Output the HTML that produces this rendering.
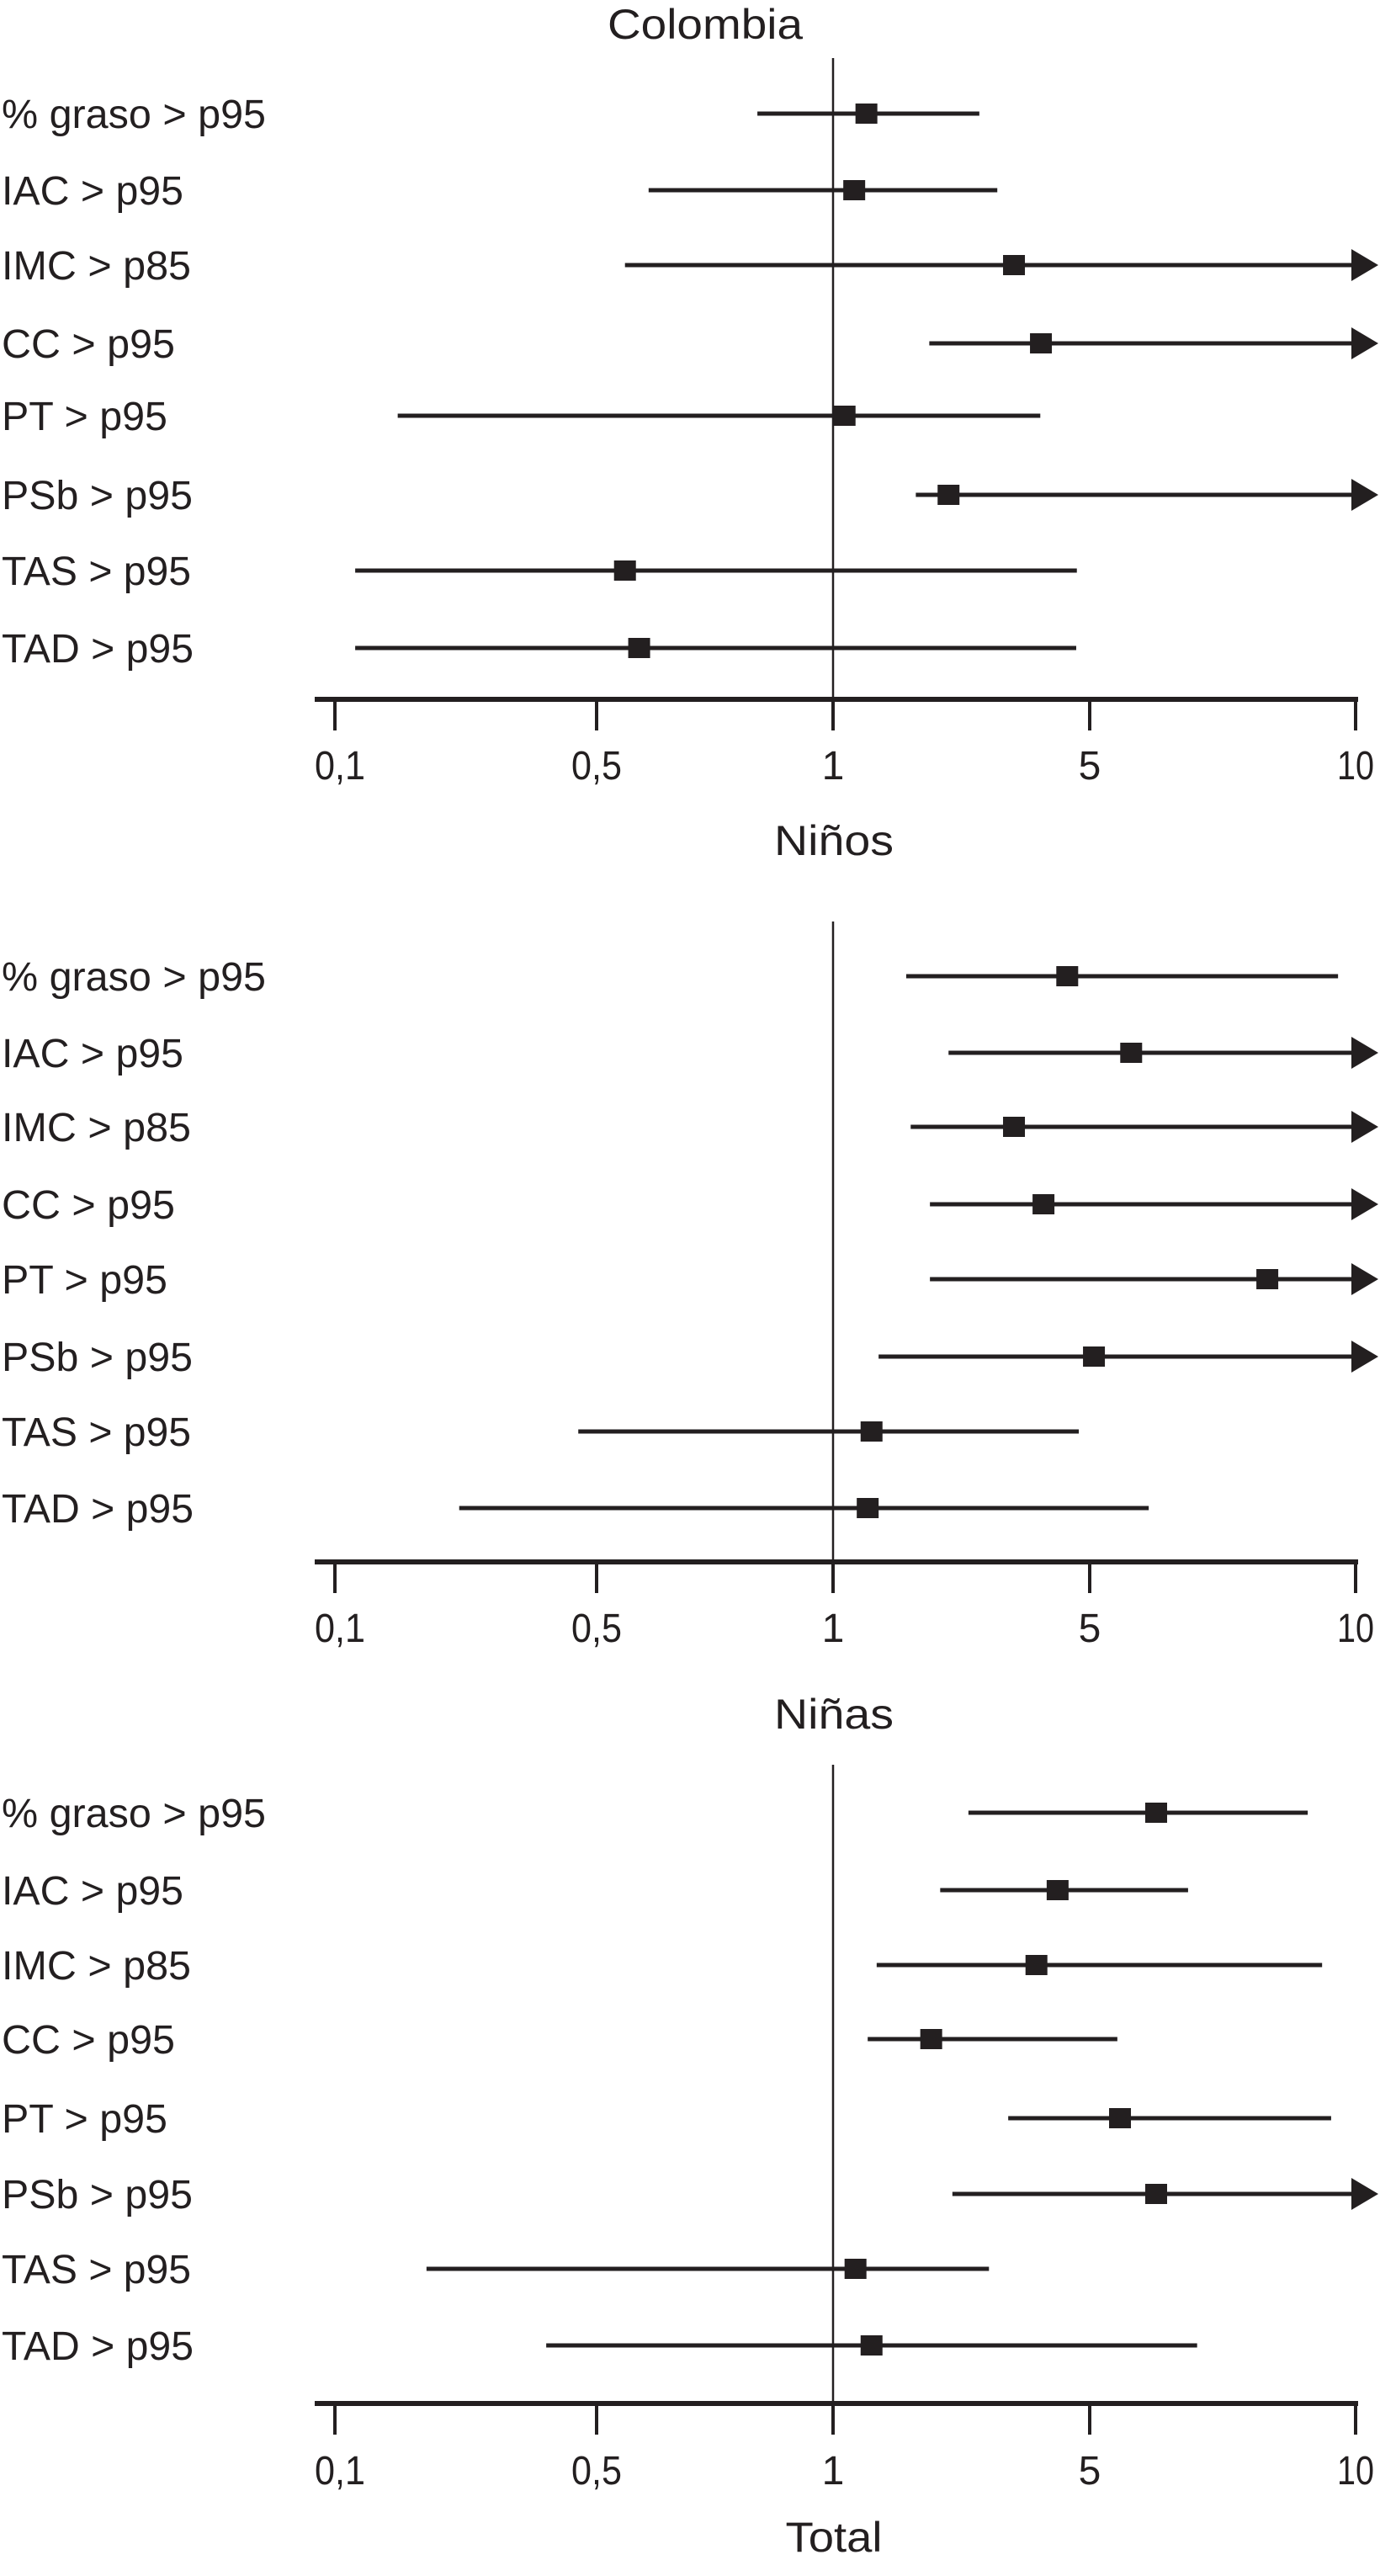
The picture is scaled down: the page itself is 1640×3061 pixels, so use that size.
<!DOCTYPE html>
<html><head><meta charset="utf-8"><style>
html,body{margin:0;padding:0;background:#fff;}
svg{display:block;}
text{font-family:"Liberation Sans",sans-serif;fill:#231f20;}
</style></head>
<body>
<svg id="chart" width="1640" height="3061" viewBox="0 0 1640 3061" xmlns="http://www.w3.org/2000/svg"></svg>
<script>
const categories = ["% graso > p95","IAC > p95","IMC > p85","CC > p95","PT > p95","PSb > p95","TAS > p95","TAD > p95"];
const labelWidths = [314,216,225,206,197,227,225,228];
const tickValues = [0.1,0.5,1,5,10];
const tickLabels = ["0,1","0,5","1","5","10"];
const tickLabelWidths = [60,60,0,0,44];
const panelTitles = ["Colombia","Niños","Niñas"];
const titleWidths = [232,142,142];
// null upper = arrow (CI beyond axis)
const colombiaEst = [1.52,1.33,3.82,4.24,1.18,2.80,0.56,0.59];
const colombiaLo  = [0.84,0.61,0.56,2.50,0.196,2.29,0.131,0.131];
const colombiaHi  = [3.28,3.56,null,null,4.23,null,4.80,4.79];
const ninosEst = [4.65,5.78,3.82,4.28,8.34,5.08,1.60,1.54];
const ninosLo  = [2.14,2.80,2.21,2.51,2.51,1.71,0.472,0.29];
const ninosHi  = [9.67,null,null,null,null,null,4.83,6.11];
const ninasEst = [6.25,4.50,4.17,2.53,5.57,6.25,1.35,1.60];
const ninasLo  = [3.11,2.67,1.68,1.54,3.73,2.86,0.240,0.423];
const ninasHi  = [9.10,6.85,9.37,5.52,9.54,null,3.43,7.02];

const NS="http://www.w3.org/2000/svg";
const svg=document.getElementById('chart');
const tickPx=[398,709,990,1295,1611];
function xScale(v){
  if(v<=tickValues[0]) return tickPx[0]+(v-tickValues[0])/(tickValues[1]-tickValues[0])*(tickPx[1]-tickPx[0]);
  for(let i=0;i<tickValues.length-1;i++){
    if(v<=tickValues[i+1]) return tickPx[i]+(v-tickValues[i])/(tickValues[i+1]-tickValues[i])*(tickPx[i+1]-tickPx[i]);
  }
  return 1608;
}
function mk(tag,attrs,parent){const e=document.createElementNS(NS,tag);for(const k in attrs)e.setAttribute(k,attrs[k]);(parent||svg).appendChild(e);return e;}

const panels=[
 {est:colombiaEst,lo:colombiaLo,hi:colombiaHi,rows:[135,226,315,408,494,588,678,770],axisY:831,vTop:69,tickLabY:909,titleX:838,titleY:29},
 {est:ninosEst,lo:ninosLo,hi:ninosHi,rows:[1160,1251,1339,1431,1520,1612,1701,1792],axisY:1856,vTop:1095,tickLabY:1934,titleX:991,titleY:999},
 {est:ninasEst,lo:ninasLo,hi:ninasHi,rows:[2154,2246,2335,2423,2517,2607,2696,2787],axisY:2856,vTop:2097,tickLabY:2935,titleX:991,titleY:2037}
];
panels.forEach((p,pi)=>{
  const g=mk('g',{});
  
  
  const t=mk('text',{x:p.titleX,y:p.titleY+17,'font-size':50,'text-anchor':'middle',textLength:titleWidths[pi],lengthAdjust:'spacingAndGlyphs'},g);
  t.textContent=panelTitles[pi];
  
  
  const ref=mk('line',{x1:xScale(1),x2:xScale(1),y1:p.vTop,y2:p.axisY,stroke:'#231f20','stroke-width':2.5},g);
  
  
  const ax=mk('line',{x1:374,x2:1614,y1:p.axisY,y2:p.axisY,stroke:'#231f20','stroke-width':6},g);
  
  
  tickValues.forEach((v,i)=>{
    const x=xScale(v);
    const tk=mk('line',{x1:x,x2:x,y1:p.axisY,y2:p.axisY+37,stroke:'#231f20','stroke-width':4},g);
    
    
    const attrs={x:x+(i==0?6:0),y:p.tickLabY+17,'font-size':48,'text-anchor':'middle'};
    if(tickLabelWidths[i]){attrs.textLength=tickLabelWidths[i];attrs.lengthAdjust='spacingAndGlyphs';}
    const tl=mk('text',attrs,g);
    tl.textContent=tickLabels[i];
    
    
  });
  categories.forEach((c,i)=>{
    const y=p.rows[i];
    const lab=mk('text',{x:2,y:y+17,'font-size':48,textLength:labelWidths[i],lengthAdjust:'spacingAndGlyphs'},g);
    lab.textContent=c;
    
    
    const x1=xScale(p.lo[i]);
    const x2=p.hi[i]===null?1608:xScale(p.hi[i]);
    const ci=mk('line',{x1:x1,x2:x2,y1:y,y2:y,stroke:'#231f20','stroke-width':5},g);
    
    
    if(p.hi[i]===null){
      const ar=mk('polygon',{points:`1606,${y-19} 1638,${y} 1606,${y+19}`,fill:'#231f20'},g);
      
      
    }
    const xe=xScale(p.est[i]);
    const sq=mk('rect',{x:xe-13,y:y-12,width:26,height:24,fill:'#231f20'},g);
    
    
  });
});
const tot=mk('text',{x:991,y:3032,'font-size':50,'text-anchor':'middle',textLength:115,lengthAdjust:'spacingAndGlyphs'});
tot.textContent='Total';


</script>
</body></html>
